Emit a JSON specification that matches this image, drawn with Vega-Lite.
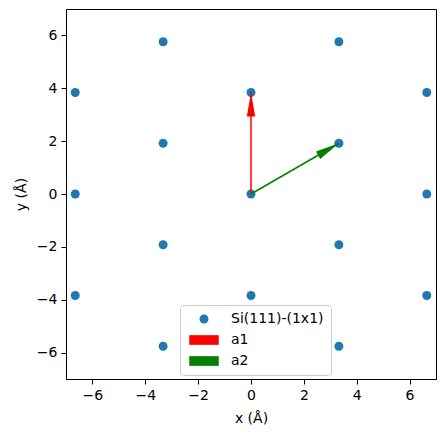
{
  "$schema": "https://vega.github.io/schema/vega-lite/v6.json",
  "autosize": "none",
  "width": 370,
  "height": 370,
  "padding": {"left": 66, "top": 9, "right": 9, "bottom": 57},
  "background": "white",
  "config": {
    "font": "DejaVu Sans",
    "view": {"stroke": "black", "strokeWidth": 1},
    "axis": {
      "grid": false,
      "domainColor": "black",
      "domainWidth": 1,
      "tickColor": "black",
      "tickWidth": 1,
      "tickSize": 5,
      "labelFontSize": 14,
      "labelColor": "black",
      "labelFont": "DejaVu Sans",
      "labelPadding": 4,
      "titleFontSize": 14,
      "titleFontWeight": "normal",
      "titleColor": "black",
      "titleFont": "DejaVu Sans"
    }
  },
  "datasets": {
    "lattice": [
      {"x": 0, "y": 0, "series": "Si(111)-(1x1)"},
      {"x": 0, "y": 3.84, "series": "Si(111)-(1x1)"},
      {"x": 0, "y": -3.84, "series": "Si(111)-(1x1)"},
      {"x": 3.3255, "y": 1.92, "series": "Si(111)-(1x1)"},
      {"x": 3.3255, "y": -1.92, "series": "Si(111)-(1x1)"},
      {"x": 3.3255, "y": 5.76, "series": "Si(111)-(1x1)"},
      {"x": 3.3255, "y": -5.76, "series": "Si(111)-(1x1)"},
      {"x": -3.3255, "y": 1.92, "series": "Si(111)-(1x1)"},
      {"x": -3.3255, "y": -1.92, "series": "Si(111)-(1x1)"},
      {"x": -3.3255, "y": 5.76, "series": "Si(111)-(1x1)"},
      {"x": -3.3255, "y": -5.76, "series": "Si(111)-(1x1)"},
      {"x": 6.651, "y": 0, "series": "Si(111)-(1x1)"},
      {"x": 6.651, "y": 3.84, "series": "Si(111)-(1x1)"},
      {"x": 6.651, "y": -3.84, "series": "Si(111)-(1x1)"},
      {"x": -6.651, "y": 0, "series": "Si(111)-(1x1)"},
      {"x": -6.651, "y": 3.84, "series": "Si(111)-(1x1)"},
      {"x": -6.651, "y": -3.84, "series": "Si(111)-(1x1)"}
    ],
    "vectors": [
      {"series": "a1", "x": 0, "y": 0, "x2": 0, "y2": 3.84},
      {"series": "a2", "x": 0, "y": 0, "x2": 3.3255, "y2": 1.92}
    ]
  },
  "layer": [
    {
      "data": {"name": "lattice"},
      "mark": {"type": "point", "filled": true, "size": 80, "opacity": 1},
      "encoding": {
        "x": {"field": "x", "type": "quantitative",
              "scale": {"domain": [-7, 7], "nice": false, "zero": false},
              "axis": {"values": [-6, -4, -2, 0, 2, 4, 6], "title": "x (Å)", "titlePadding": 9}},
        "y": {"field": "y", "type": "quantitative",
              "scale": {"domain": [-7, 7], "nice": false, "zero": false},
              "axis": {"values": [-6, -4, -2, 0, 2, 4, 6], "title": "y (Å)", "titlePadding": 8}},
        "color": {"field": "series", "type": "nominal",
                  "scale": {"domain": ["Si(111)-(1x1)", "a1", "a2"], "range": ["#1f77b4", "#ff0000", "#008000"]},
                  "legend": {
                    "title": null, "orient": "none", "legendX": 114, "legendY": 296,
                    "fillColor": "rgba(255,255,255,0.8)", "strokeColor": "#cccccc", "cornerRadius": 3,
                    "padding": 7, "symbolOffset": 10, "labelOffset": 20, "labelFontSize": 14,
                    "labelColor": "black", "labelFont": "DejaVu Sans", "symbolSize": 80, "rowPadding": 7,
                    "symbolStrokeWidth": 0, "symbolOpacity": 1
                  }},
        "shape": {"field": "series", "type": "nominal",
                  "scale": {"domain": ["Si(111)-(1x1)", "a1", "a2"],
                            "range": ["circle", "M-3.3,-1.08H3.3V1.08H-3.3Z", "M-3.3,-1.08H3.3V1.08H-3.3Z"]}}
      }
    },
    {
      "data": {"name": "vectors"},
      "mark": {"type": "rule", "strokeWidth": 1.5},
      "encoding": {
        "x": {"field": "x", "type": "quantitative"},
        "y": {"field": "y", "type": "quantitative"},
        "x2": {"field": "x2"},
        "y2": {"field": "y2"},
        "color": {"field": "series", "type": "nominal"}
      }
    },
    {
      "data": {"name": "vectors"},
      "transform": [{"filter": "datum.series === 'a1'"}],
      "mark": {"type": "point", "filled": true, "size": 4, "opacity": 1, "angle": 0,
               "shape": "M0,0L-4.2,24L4.2,24Z"},
      "encoding": {
        "x": {"field": "x2", "type": "quantitative"},
        "y": {"field": "y2", "type": "quantitative"},
        "color": {"field": "series", "type": "nominal"}
      }
    },
    {
      "data": {"name": "vectors"},
      "transform": [{"filter": "datum.series === 'a2'"}],
      "mark": {"type": "point", "filled": true, "size": 4, "opacity": 1, "angle": 60,
               "shape": "M0,0L-4.2,24L4.2,24Z"},
      "encoding": {
        "x": {"field": "x2", "type": "quantitative"},
        "y": {"field": "y2", "type": "quantitative"},
        "color": {"field": "series", "type": "nominal"}
      }
    }
  ]
}
